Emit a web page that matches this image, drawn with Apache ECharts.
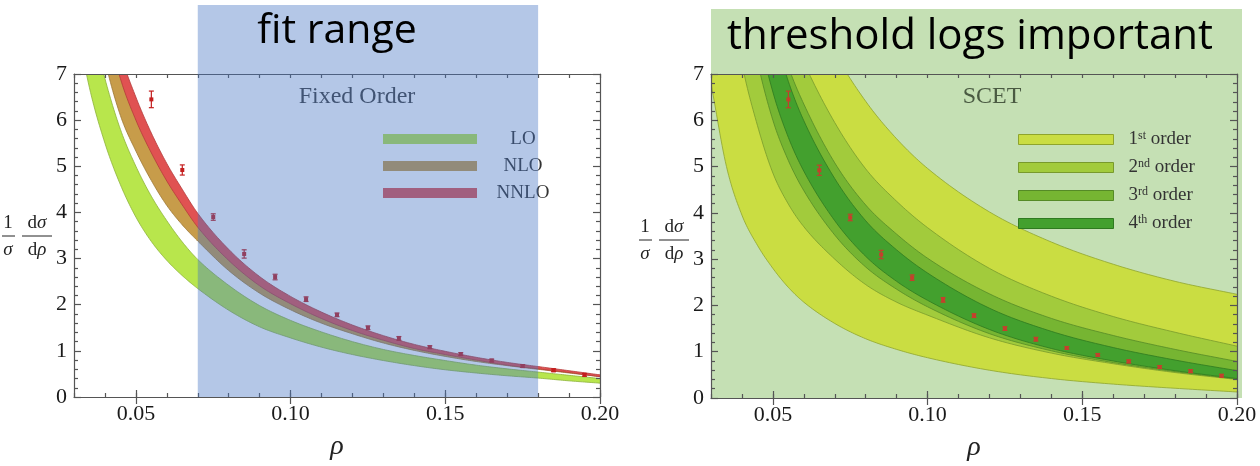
<!DOCTYPE html>
<html>
<head>
<meta charset="utf-8">
<script src="https://cdn.jsdelivr.net/npm/echarts@6/dist/echarts.min.js"></script>
<style>
  html, body { margin: 0; padding: 0; background: #ffffff; }
  #chart { width: 1260px; height: 466px; }
</style>
</head>
<body>
<div id="chart"></div>
<script>
// ---------- data ----------
const X_MIN = 0.03, X_MAX = 0.20;
const X_TICK_LABELS = ['0.05', '0.10', '0.15', '0.20'];
const X_MAJOR_TICKS = [0.05, 0.10, 0.15, 0.20];
const Y_TICK_LABELS = ['0', '1', '2', '3', '4', '5', '6', '7'];

// measured distribution (same points in both panels)
const RHO_DATA = [0.055, 0.065, 0.075, 0.085, 0.095, 0.105, 0.115, 0.125, 0.135, 0.145, 0.155, 0.165, 0.175, 0.185, 0.195];
const DATA_VAL = [6.45, 4.92, 3.90, 3.10, 2.60, 2.12, 1.78, 1.50, 1.27, 1.08, 0.93, 0.79, 0.67, 0.58, 0.48];
const DATA_ERR = [0.18, 0.11, 0.07, 0.09, 0.06, 0.05, 0.04, 0.04, 0.04, 0.03, 0.03, 0.03, 0.03, 0.03, 0.03];

// fixed-order bands
const RHO_FO    = [0.030, 0.035, 0.040, 0.045, 0.050, 0.055, 0.060, 0.065, 0.070, 0.080, 0.090, 0.100, 0.110, 0.120, 0.130, 0.140, 0.150, 0.160, 0.170, 0.180, 0.190, 0.200];
const LO_LOW    = [8.4, 6.7, 5.5, 4.6, 3.9, 3.37, 2.96, 2.63, 2.35, 1.88, 1.52, 1.28, 1.08, 0.92, 0.79, 0.68, 0.59, 0.52, 0.46, 0.41, 0.35, 0.30];
const LO_HIGH   = [10.5, 8.3, 6.9, 5.8, 5.0, 4.35, 3.82, 3.36, 2.98, 2.42, 1.98, 1.66, 1.41, 1.20, 1.03, 0.90, 0.79, 0.69, 0.61, 0.54, 0.47, 0.40];
const NLO_LOW   = [11.3, 9.0, 7.3, 6.1, 5.33, 4.69, 4.15, 3.73, 3.38, 2.74, 2.25, 1.89, 1.60, 1.37, 1.17, 1.01, 0.88, 0.77, 0.68, 0.60, 0.52, 0.44];
const NLO_HIGH  = [13.2, 10.5, 8.5, 7.1, 6.2, 5.46, 4.83, 4.30, 3.80, 3.06, 2.49, 2.08, 1.76, 1.49, 1.27, 1.09, 0.95, 0.82, 0.72, 0.63, 0.545, 0.46];
const NNLO_LOW  = [12.8, 10.2, 8.23, 6.9, 6.0, 5.29, 4.68, 4.16, 3.68, 2.96, 2.41, 2.02, 1.70, 1.44, 1.23, 1.05, 0.92, 0.80, 0.69, 0.61, 0.53, 0.44];
const NNLO_HIGH = [13.8, 11.0, 8.9, 7.45, 6.5, 5.72, 5.06, 4.50, 3.98, 3.20, 2.61, 2.18, 1.84, 1.56, 1.33, 1.14, 0.99, 0.86, 0.75, 0.66, 0.57, 0.48];
const FO_NAMES  = ['LO', 'NLO', 'NNLO'];
const FIT_RANGE = [0.07, 0.18];

// SCET bands
const RHO_SC  = [0.030, 0.035, 0.040, 0.045, 0.050, 0.055, 0.060, 0.070, 0.080, 0.090, 0.100, 0.120, 0.140, 0.160, 0.180, 0.200];
const O1_LOW  = [6.8, 5.0, 3.95, 3.3, 2.8, 2.39, 2.07, 1.61, 1.28, 1.05, 0.87, 0.60, 0.42, 0.30, 0.21, 0.13];
const O1_HIGH = [30, 18.5, 14.2, 12.4, 11.0, 9.9, 8.93, 7.47, 6.41, 5.6, 4.96, 4.02, 3.37, 2.89, 2.52, 2.24];
const O2_LOW  = [12.8, 9.28, 7.23, 5.89, 4.86, 4.19, 3.70, 3.00, 2.45, 2.07, 1.79, 1.30, 0.97, 0.74, 0.55, 0.40];
const O2_HIGH = [24.2, 17.5, 13.7, 11.1, 9.2, 8.06, 7.25, 5.95, 4.95, 4.25, 3.68, 2.80, 2.20, 1.76, 1.42, 1.12];
const O3_LOW  = [15.8, 11.5, 8.93, 7.27, 6.0, 5.13, 4.48, 3.52, 2.83, 2.35, 1.97, 1.39, 1.02, 0.765, 0.57, 0.41];
const O3_HIGH = [21.8, 15.8, 12.3, 10.0, 8.28, 7.16, 6.35, 5.08, 4.17, 3.54, 3.02, 2.25, 1.72, 1.35, 1.05, 0.79];
const O4_LOW  = [17.4, 12.6, 9.83, 8.0, 6.61, 5.63, 4.90, 3.83, 3.06, 2.52, 2.11, 1.48, 1.07, 0.80, 0.59, 0.42];
const O4_HIGH = [21.0, 15.2, 11.9, 9.66, 7.98, 6.84, 5.99, 4.74, 3.83, 3.20, 2.70, 1.94, 1.44, 1.09, 0.82, 0.59];
const ORDER_NAMES = ['1st order', '2nd order', '3rd order', '4th order'];
const ORDER_NUM   = ['1', '2', '3', '4'];
const ORDER_SUP   = ['st', 'nd', 'rd', 'th'];

// ---------- styles ----------
const SERIF = '"Liberation Serif", "DejaVu Serif", serif';
const FRAME = { color: '#555555', width: 1.2 };
const FO_FILL = ['#b8e64c', '#c79c4a', '#e05252'];
const FO_EDGE = ['#8db23a', '#9c7634', '#b43a3a'];
const SC_FILL = ['#cadd42', '#a2cb3c', '#76b532', '#43a02e'];
const SC_EDGE = ['#8fa42c', '#789a2c', '#558a26', '#2f7a20'];
const GRIDS = [
  { left: 74, top: 74, width: 526, height: 323 },
  { left: 711, top: 74, width: 526, height: 324 }
];

// monotone cubic smoothing of a pixel polyline (x increasing)
function smoothLine(pts, steps) {
  const n = pts.length, dx = [], s = [], m = [];
  for (let i = 0; i < n - 1; i++) {
    dx[i] = pts[i + 1][0] - pts[i][0];
    s[i] = (pts[i + 1][1] - pts[i][1]) / dx[i];
  }
  m[0] = s[0]; m[n - 1] = s[n - 2];
  for (let i = 1; i < n - 1; i++) m[i] = s[i - 1] * s[i] <= 0 ? 0 : (s[i - 1] + s[i]) / 2;
  for (let i = 0; i < n - 1; i++) {
    if (s[i] === 0) { m[i] = m[i + 1] = 0; continue; }
    const a = m[i] / s[i], b = m[i + 1] / s[i], h = a * a + b * b;
    if (h > 9) { const t = 3 / Math.sqrt(h); m[i] = t * a * s[i]; m[i + 1] = t * b * s[i]; }
  }
  const out = [];
  for (let i = 0; i < n - 1; i++) {
    for (let k = 0; k < steps; k++) {
      const t = k / steps, t2 = t * t, t3 = t2 * t;
      const h00 = 2 * t3 - 3 * t2 + 1, h10 = t3 - 2 * t2 + t, h01 = -2 * t3 + 3 * t2, h11 = t3 - t2;
      out.push([pts[i][0] + t * dx[i],
        h00 * pts[i][1] + h10 * dx[i] * m[i] + h01 * pts[i + 1][1] + h11 * dx[i] * m[i + 1]]);
    }
  }
  out.push(pts[n - 1]);
  return out;
}

function bandSeries(name, xi, yi, rho, lo, hi, fill, edge, z) {
  return {
    type: 'custom', name: name, xAxisIndex: xi, yAxisIndex: yi, z: z,
    silent: true, clip: true,
    itemStyle: { color: fill },
    data: rho.map((r, i) => [r, lo[i], hi[i]]),
    renderItem: function (params, api) {
      if (params.dataIndex !== 0) return null;
      const up = smoothLine(rho.map((r, i) => api.coord([r, hi[i]])), 14);
      const dn = smoothLine(rho.map((r, i) => api.coord([r, lo[i]])), 14);
      const cs = params.coordSys;
      return {
        type: 'group',
        clipPath: { type: 'rect', shape: { x: cs.x, y: cs.y, width: cs.width, height: cs.height } },
        children: [
          { type: 'polygon', shape: { points: up.concat(dn.slice().reverse()) }, style: { fill: fill } },
          { type: 'polyline', shape: { points: up }, style: { fill: null, stroke: edge, lineWidth: 0.8 } },
          { type: 'polyline', shape: { points: dn }, style: { fill: null, stroke: edge, lineWidth: 0.8 } }
        ]
      };
    }
  };
}

function dataSeries(xi, yi, color, z) {
  return {
    type: 'custom', name: 'data', xAxisIndex: xi, yAxisIndex: yi, z: z, silent: true,
    data: RHO_DATA.map((r, i) => [r, DATA_VAL[i], DATA_ERR[i]]),
    renderItem: function (params, api) {
      const x = api.value(0), y = api.value(1), e = api.value(2);
      const c = api.coord([x, y]), t = api.coord([x, y + e]), b = api.coord([x, y - e]);
      const st = { stroke: color, lineWidth: 1.2 };
      return {
        type: 'group',
        children: [
          { type: 'line', shape: { x1: c[0], y1: t[1], x2: c[0], y2: b[1] }, style: st },
          { type: 'line', shape: { x1: c[0] - 2.5, y1: t[1], x2: c[0] + 2.5, y2: t[1] }, style: st },
          { type: 'line', shape: { x1: c[0] - 2.5, y1: b[1], x2: c[0] + 2.5, y2: b[1] }, style: st },
          { type: 'rect', shape: { x: c[0] - 2, y: c[1] - 2, width: 4, height: 4 }, style: { fill: color } }
        ]
      };
    }
  };
}

function xAxesFor(g) {
  const base = { gridIndex: g, type: 'value', min: X_MIN, max: X_MAX, interval: 0.01, splitLine: { show: false }, z: 5 };
  return [
    Object.assign({}, base, {
      position: 'bottom',
      axisLine: { show: true, onZero: false, lineStyle: FRAME },
      axisTick: { show: true, inside: true, length: 4, lineStyle: FRAME },
      axisLabel: {
        margin: 6, fontSize: 22, fontFamily: SERIF, color: '#1a1a1a',
        showMinLabel: true, showMaxLabel: true,
        formatter: function (v) { const s = v.toFixed(2); return X_TICK_LABELS.indexOf(s) >= 0 ? s : ''; }
      },
      name: 'ρ', nameLocation: 'middle', nameGap: 36,
      nameTextStyle: { fontFamily: SERIF, fontStyle: 'italic', fontSize: 28, color: '#222' }
    }),
    Object.assign({}, base, {
      position: 'bottom',
      axisLine: { show: false },
      axisTick: { show: true, inside: true, length: 7, customValues: X_MAJOR_TICKS, lineStyle: FRAME },
      axisLabel: { show: false }
    }),
    Object.assign({}, base, {
      position: 'top',
      axisLine: { show: true, onZero: false, lineStyle: FRAME },
      axisTick: { show: true, inside: true, length: 4, lineStyle: FRAME },
      axisLabel: { show: false }
    }),
    Object.assign({}, base, {
      position: 'top',
      axisLine: { show: false },
      axisTick: { show: true, inside: true, length: 7, customValues: X_MAJOR_TICKS, lineStyle: FRAME },
      axisLabel: { show: false }
    })
  ];
}

function yAxesFor(g) {
  const base = {
    gridIndex: g, type: 'value', min: 0, max: 7, interval: 1, z: 5,
    splitLine: { show: false }, minorSplitLine: { show: false },
    axisLine: { show: true, onZero: false, lineStyle: FRAME },
    axisTick: { show: true, inside: true, length: 7, lineStyle: FRAME },
    minorTick: { show: true, splitNumber: 5, length: 4, lineStyle: FRAME }
  };
  return [
    Object.assign({}, base, {
      position: 'left',
      axisLabel: { margin: 7, fontSize: 22, fontFamily: SERIF, color: '#1a1a1a',
        formatter: function (v) { return Y_TICK_LABELS[Math.round(v)]; } }
    }),
    Object.assign({}, base, { position: 'right', axisLabel: { show: false } })
  ];
}

// 1/σ dσ/dρ as a stacked fraction
function fractionLabel(cx, cy) {
  const rich = { i: { fontStyle: 'italic', fontFamily: SERIF, fontSize: 19 }, r: { fontFamily: SERIF, fontSize: 19 } };
  const t = (x, y, txt) => ({
    type: 'text', x: x, y: y, z: 6,
    style: { text: txt, align: 'center', verticalAlign: 'middle', fontFamily: SERIF, fontSize: 19, fill: '#222', rich: rich }
  });
  const bar = (x1, x2) => ({ type: 'line', z: 6, shape: { x1: x1, y1: cy, x2: x2, y2: cy }, style: { stroke: '#222', lineWidth: 1 } });
  return [
    t(cx + 6, cy - 13, '{r|1}'),
    t(cx + 35, cy - 13, '{r|d}{i|σ}'),
    bar(cx, cx + 13),
    bar(cx + 20, cx + 50),
    t(cx + 6, cy + 14, '{i|σ}'),
    t(cx + 35, cy + 14, '{r|d}{i|ρ}')
  ];
}

// centred names next to the fixed-order legend swatches
function foLegendNames() {
  return FO_NAMES.map((n, k) => ({
    type: 'text', x: 523, y: 139 + 27 * k, z: 4,
    style: { text: n, align: 'center', verticalAlign: 'middle', fontFamily: SERIF, fontSize: 19, fill: '#333' }
  }));
}

const chart = echarts.init(document.getElementById('chart'), null, { renderer: 'canvas' });

const series = [];
// left panel bands, points and the translucent fit window
series.push(bandSeries(FO_NAMES[0], 0, 0, RHO_FO, LO_LOW, LO_HIGH, FO_FILL[0], FO_EDGE[0], 2));
series.push(bandSeries(FO_NAMES[1], 0, 0, RHO_FO, NLO_LOW, NLO_HIGH, FO_FILL[1], FO_EDGE[1], 2));
series.push(bandSeries(FO_NAMES[2], 0, 0, RHO_FO, NNLO_LOW, NNLO_HIGH, FO_FILL[2], FO_EDGE[2], 2));
series.push(dataSeries(0, 0, '#c41e1e', 3));
series.push({
  type: 'custom', name: 'fit window', xAxisIndex: 0, yAxisIndex: 0, z: 10, silent: true, clip: false,
  data: [[FIT_RANGE[0], FIT_RANGE[1]]],
  renderItem: function (params, api) {
    const a = api.coord([api.value(0), 0]), b = api.coord([api.value(1), 0]);
    return { type: 'rect', shape: { x: a[0], y: 5, width: b[0] - a[0], height: a[1] - 5 },
      style: { fill: 'rgba(68,114,196,0.4)' } };
  }
});
// right panel: shaded region behind everything, bands, points
series.push({
  type: 'custom', name: 'threshold region', xAxisIndex: 4, yAxisIndex: 2, z: 1, silent: true, clip: false,
  data: [[X_MIN, X_MAX]],
  renderItem: function (params, api) {
    const a = api.coord([api.value(0), 0]), b = api.coord([api.value(1), 0]);
    return { type: 'rect', shape: { x: a[0], y: 9, width: b[0] - a[0] + 5, height: a[1] - 9 },
      style: { fill: '#c5e0b4' } };
  }
});
const SC_LOW = [O1_LOW, O2_LOW, O3_LOW, O4_LOW];
const SC_HIGH = [O1_HIGH, O2_HIGH, O3_HIGH, O4_HIGH];
for (let k = 0; k < 4; k++) {
  series.push(bandSeries(ORDER_NAMES[k], 4, 2, RHO_SC, SC_LOW[k], SC_HIGH[k], SC_FILL[k], SC_EDGE[k], 2));
}
series.push(dataSeries(4, 2, '#c4402c', 3));

const option = {
  animation: false,
  backgroundColor: '#ffffff',
  grid: GRIDS.map(g => Object.assign({ show: false, containLabel: false, outerBoundsMode: 'none' }, g)),
  xAxis: xAxesFor(0).concat(xAxesFor(1)),
  yAxis: yAxesFor(0).concat(yAxesFor(1)),
  legend: [
    {
      data: FO_NAMES, orient: 'vertical', left: 383, top: 134, padding: 0, selectedMode: false,
      icon: 'rect', itemWidth: 94, itemHeight: 10, itemGap: 17, z: 4,
      formatter: function () { return ''; },
      textStyle: { fontSize: 8 }
    },
    {
      data: ORDER_NAMES.map((n, i) => ({ name: n, itemStyle: { borderColor: SC_EDGE[i], borderWidth: 1 } })),
      orient: 'vertical', left: 1018, top: 130, padding: 0, selectedMode: false,
      icon: 'rect', itemWidth: 95, itemHeight: 10, itemGap: 9, z: 4,
      formatter: function (n) {
        const k = ORDER_NAMES.indexOf(n);
        return '{n|' + ORDER_NUM[k] + '}{s|' + ORDER_SUP[k] + '}{o| order}';
      },
      textStyle: { fontFamily: SERIF, fontSize: 19, color: '#333',
        rich: {
          n: { fontFamily: SERIF, fontSize: 19, color: '#333', padding: [0, 0, 0, 10] },
          s: { fontFamily: SERIF, fontSize: 12, color: '#333', verticalAlign: 'top' },
          o: { fontFamily: SERIF, fontSize: 19, color: '#333' }
        } }
    }
  ],
  graphic: [
    { type: 'text', x: 337, y: 31, z: 20,
      style: { text: 'fit range', align: 'center', verticalAlign: 'middle', fontFamily: '"Open Sans", sans-serif', fontSize: 41, fill: '#000' } },
    { type: 'text', x: 970, y: 37, z: 20,
      style: { text: 'threshold logs important', align: 'center', verticalAlign: 'middle', fontFamily: '"Open Sans", sans-serif', fontSize: 42, fill: '#000' } },
    { type: 'text', x: 357, y: 97, z: 3,
      style: { text: 'Fixed Order', align: 'center', verticalAlign: 'middle', fontFamily: SERIF, fontSize: 24, fill: '#404040' } },
    { type: 'text', x: 992, y: 97, z: 3,
      style: { text: 'SCET', align: 'center', verticalAlign: 'middle', fontFamily: SERIF, fontSize: 24, fill: '#4a5a42' } }
  ].concat(foLegendNames(), fractionLabel(2, 236), fractionLabel(639, 240)),
  series: series
};

chart.setOption(option);
</script>
</body>
</html>
